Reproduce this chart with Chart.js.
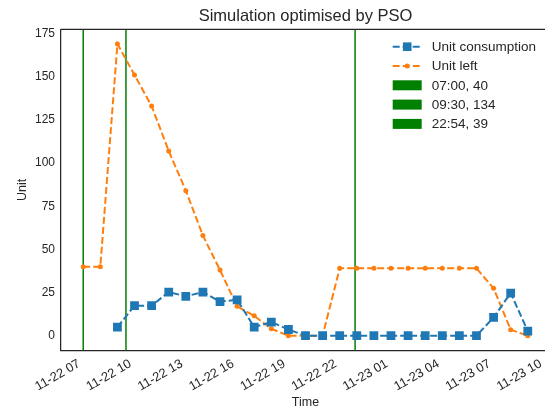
<!DOCTYPE html>
<html>
<head>
<meta charset="utf-8">
<script src="https://cdn.jsdelivr.net/npm/chart.js@4.4.1/dist/chart.umd.min.js"></script>
<style>
  html, body { margin: 0; padding: 0; background: #fff; overflow: hidden; }
  #wrap { width: 545px; height: 412px; overflow: hidden; }
  canvas { display: block; }
</style>
</head>
<body>
<!-- the axes run a few px past the right edge of the picture, so the canvas is a bit wider and cropped -->
<div id="wrap"><canvas id="myChart" width="550" height="412"></canvas></div>
<script>
// hours counted from 11-22 00:00
var hours = [7, 8, 9, 10, 11, 12, 13, 14, 15, 16, 17, 18, 19, 20, 21, 22, 23, 24, 25, 26, 27, 28, 29, 30, 31, 32, 33];
var unitConsumption = [null, null, 5, 17.4, 17.4, 25.3, 22.8, 25.3, 19.7, 20.8, 5, 7.9, 3.6, 0, 0, 0, 0, 0, 0, 0, 0, 0, 0, 0, 10.6, 24.7, 2.7];
var unitLeft = [40, 40, 169, 151, 133, 107, 84, 58, 38, 17, 11.5, 4, 0, 0, 0, 39, 39, 39, 39, 39, 39, 39, 39, 39, 27.5, 3.5, 0];

var tickHours = [7, 10, 13, 16, 19, 22, 25, 28, 31, 34];
var tickLabels = ['11-22 07', '11-22 10', '11-22 13', '11-22 16', '11-22 19', '11-22 22', '11-23 01', '11-23 04', '11-23 07', '11-23 10'];
var yTicks = [0, 25, 50, 75, 100, 125, 150, 175];

var markerHours = [7, 9.5, 22.9];
var markerLabels = ['07:00, 40', '09:30, 134', '22:54, 39'];

var fontFamily = '"Liberation Sans", Arial, sans-serif';
var textColor = '#262626';
var blue = '#1f77b4', orange = '#ff7f0e', green = '#008000';

var ctx = document.getElementById('myChart');

function toPoints(values) {
    return hours.map(function (h, i) { return { x: h, y: values[i] }; });
}

function drawMarker(c, kind, x, y, color) {
    c.fillStyle = color;
    if (kind === 'square') {
        c.fillRect(x - 4.3, y - 4.3, 8.6, 8.6);
    } else {
        c.beginPath();
        c.arc(x, y, 2.5, 0, Math.PI * 2);
        c.fill();
    }
}

var extras = {
    id: 'extras',
    beforeDatasetsDraw: function (chart) {
        var c = chart.ctx, area = chart.chartArea, xs = chart.scales.x;
        c.save();
        c.strokeStyle = green;
        c.lineWidth = 1.5;
        markerHours.forEach(function (h) {
            var px = xs.getPixelForValue(h);
            c.beginPath();
            c.moveTo(px, area.top);
            c.lineTo(px, area.bottom);
            c.stroke();
        });
        c.restore();
    },
    afterDraw: function (chart) {
        var c = chart.ctx, area = chart.chartArea;
        c.save();
        // top spine
        c.strokeStyle = textColor;
        c.lineWidth = 1.25;
        c.beginPath();
        c.moveTo(area.left, area.top);
        c.lineTo(area.right, area.top);
        c.stroke();

        // legend, upper right inside the axes
        var hx = area.right - 157.3;
        var y0 = area.top + 17.4;
        var items = [
            { kind: 'line', marker: 'square', color: blue, text: chart.data.datasets[0].label },
            { kind: 'line', marker: 'dot', color: orange, text: chart.data.datasets[1].label }
        ];
        markerLabels.forEach(function (l) { items.push({ kind: 'patch', color: green, text: l }); });

        c.font = '13.5px ' + fontFamily;
        c.textBaseline = 'middle';
        items.forEach(function (it, i) {
            var y = y0 + i * 19.3;
            if (it.kind === 'line') {
                c.strokeStyle = it.color;
                c.lineWidth = 2;
                c.setLineDash([7, 3]);
                c.beginPath();
                c.moveTo(hx, y);
                c.lineTo(hx + 29, y);
                c.stroke();
                c.setLineDash([]);
                drawMarker(c, it.marker, hx + 14.5, y, it.color);
            } else {
                c.fillStyle = it.color;
                c.fillRect(hx, y - 5, 29, 10);
            }
            c.fillStyle = textColor;
            c.fillText(it.text, hx + 39, y + 0.5);
        });
        c.restore();
    }
};

var myChart = new Chart(ctx, {
    type: 'line',
    data: {
        datasets: [{
            label: 'Unit consumption',
            data: toPoints(unitConsumption),
            borderColor: blue,
            backgroundColor: blue,
            borderWidth: 2,
            borderDash: [7, 3],
            pointStyle: 'rect',
            pointRadius: 6.2,
            pointBorderWidth: 0,
            pointBackgroundColor: blue
        }, {
            label: 'Unit left',
            data: toPoints(unitLeft),
            borderColor: orange,
            backgroundColor: orange,
            borderWidth: 2,
            borderDash: [7, 3],
            pointStyle: 'circle',
            pointRadius: 2.5,
            pointBorderWidth: 0,
            pointBackgroundColor: orange
        }]
    },
    options: {
        responsive: false,
        maintainAspectRatio: false,
        animation: false,
        layout: { autoPadding: false, padding: 0 },
        plugins: {
            legend: { display: false },
            tooltip: { enabled: false },
            title: {
                display: true,
                fullSize: false,
                text: 'Simulation optimised by PSO',
                color: textColor,
                font: { family: fontFamily, size: 16.5, weight: 'normal' },
                padding: { top: 6.5, bottom: 3 }
            }
        },
        scales: {
            x: {
                type: 'linear',
                min: 5.7,
                max: 34.3,
                grid: { display: false, drawTicks: false },
                border: { display: true, color: textColor, width: 1.25 },
                afterBuildTicks: function (s) {
                    s.ticks = tickHours.map(function (v) { return { value: v }; });
                },
                afterFit: function (s) {
                    s.height = 61.7;
                    s.paddingLeft = 0;
                    s.paddingRight = 0;
                },
                ticks: {
                    autoSkip: false,
                    minRotation: 30,
                    maxRotation: 30,
                    padding: 6,
                    labelOffset: -4,
                    color: textColor,
                    font: { family: fontFamily, size: 12.8 },
                    callback: function (value) {
                        return tickLabels[tickHours.indexOf(value)];
                    }
                },
                title: {
                    display: true,
                    text: 'Time',
                    color: textColor,
                    font: { family: fontFamily, size: 12.5 },
                    padding: { top: 0, bottom: 1.8 }
                }
            },
            y: {
                min: -8.45,
                max: 177.45,
                grid: { display: false, drawTicks: false },
                border: { display: true, color: textColor, width: 1.25 },
                afterBuildTicks: function (s) {
                    s.ticks = yTicks.map(function (v) { return { value: v }; });
                },
                afterFit: function (s) {
                    s.width = 61;
                    s.paddingTop = 0;
                    s.paddingBottom = 0;
                },
                ticks: {
                    padding: 6,
                    color: textColor,
                    font: { family: fontFamily, size: 12 }
                },
                title: {
                    display: true,
                    text: 'Unit',
                    color: textColor,
                    font: { family: fontFamily, size: 12.5 },
                    padding: { top: 15, bottom: 0 }
                }
            }
        }
    },
    plugins: [extras]
});
</script>
</body>
</html>
